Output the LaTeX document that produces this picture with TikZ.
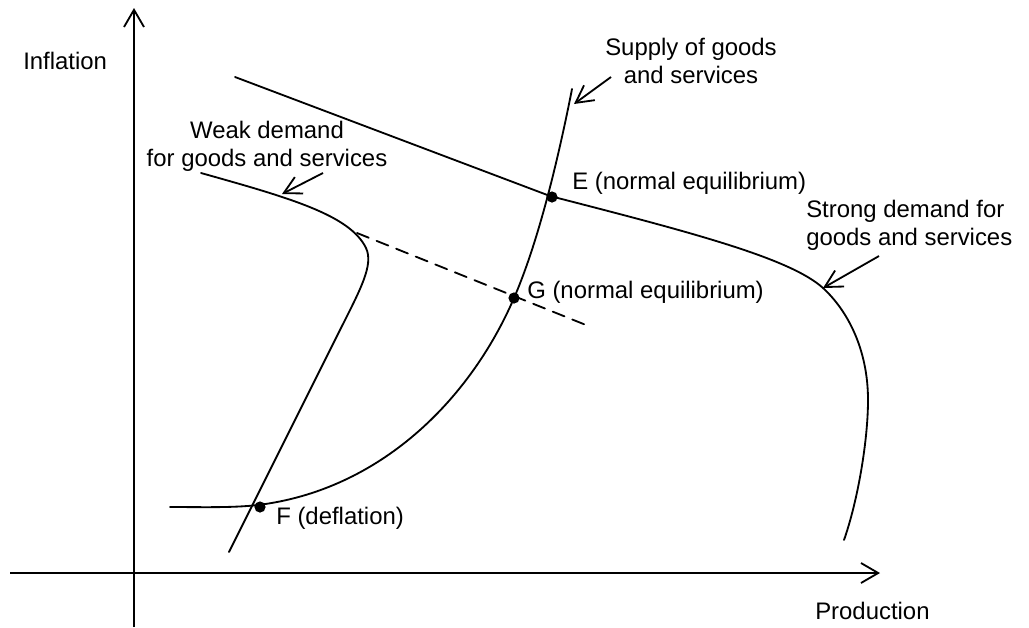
\documentclass[tikz,border=0pt]{standalone}
\usepackage{fontspec}
\setmainfont{Liberation Sans}
\usetikzlibrary{arrows.meta,positioning,calc}
\tikzset{
  curve/.style={line width=1.3pt, line cap=round},
  axis/.style={line width=1.3pt, -{Straight Barb[length=4.3mm, width=5mm]}},
  pointer/.style={line width=1.3pt, -{Straight Barb[length=4.3mm, width=4.6mm]}},
  lbl/.style={inner sep=0pt, font=\fontsize{17}{20}\selectfont},
  eqdot/.style={circle, fill=black, inner sep=0pt, minimum size=2.8mm},
}

\begin{document}
\begin{tikzpicture}[x=0.025cm, y=-0.025cm]
\useasboundingbox (0,0) rectangle (1029,627);
% Axes
\coordinate (xfrom) at (10,573);
\coordinate (xto)   at (880,573);
\coordinate (yfrom) at (134,627);
\coordinate (yto)   at (134,8);
\draw[axis] (xfrom) -- (xto);
\draw[axis] (yfrom) -- (yto);
\node[lbl, anchor=base west] (infl) at (23,69)  {Inflation};
\node[lbl, anchor=base west] (prod) at (815,619) {Production};
% Crossing points of the curves
\coordinate (E) at (550,196);
\coordinate (G) at (514,298);
\coordinate (F) at (258,505);
% Strong demand
\coordinate (strongpt) at (823,288);
\draw[curve] (235,77) -- (E) .. controls (690,232) and (790,258) .. (strongpt)
  .. controls (848,311) and (868,350) .. (868,400)
  .. controls (868,440) and (858,500) .. (844,540);
% Supply
\draw[curve] (170,507) .. controls (200,507) and (232,508) .. (F)
  .. controls (380,490) and (470,400) .. (G)
  .. controls (540,238) and (560,150) .. (572,89);
% Weak demand
\coordinate (kink) at (357,233);
\draw[curve] (201,173) .. controls (290,198) and (350,215) .. (366,248)
  .. controls (374,265) and (360,290) .. (340,330) -- (229,552);
\coordinate (dashend) at (586,325);
\draw[curve, dashed, dash pattern=on 9pt off 6pt] (kink) -- (dashend);
% Equilibrium dots and their labels
\node[eqdot] (Edot) at (552,197) {};
\node[eqdot] (Gdot) at (514,298) {};
\node[eqdot] (Fdot) at (260,507) {};
\node[lbl, anchor=base west] (Elab) at (572,189) {E (normal equilibrium)};
\node[lbl, anchor=base west] (Glab) at (527,298) {G (normal equilibrium)};
\node[lbl, anchor=base west] (Flab) at (276,524) {F (deflation)};
% Curve names with pointers
\node[lbl, anchor=north, align=center] (weaklab) at (267,121)
  {Weak demand\\for goods and services};
\node[lbl, anchor=north west, align=left] (stronglab) at (806,200)
  {Strong demand for\\goods and services};
\node[lbl, anchor=north, align=center] (supplab) at (691,38)
  {Supply of goods\\and services};
\coordinate (weaktail)   at (323,173);
\coordinate (weaktip)    at (282,194);
\coordinate (supptail)   at (611,77);
\coordinate (supptip)    at (574,104);
\coordinate (strongtail) at (879,256);
\draw[pointer] (weaktail) -- (weaktip);
\draw[pointer] (supptail) -- (supptip);
\draw[pointer] (strongtail) -- (strongpt);
\end{tikzpicture}
\end{document}
